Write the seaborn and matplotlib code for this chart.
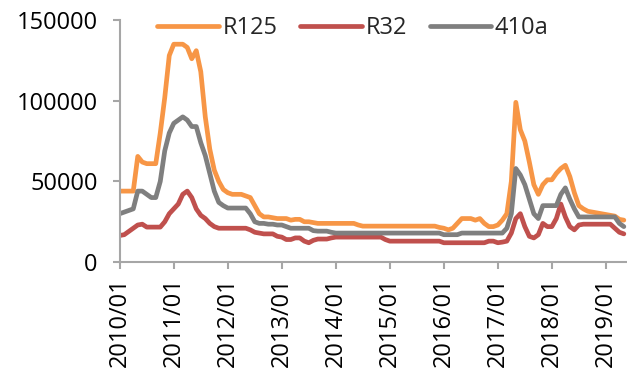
import numpy as np
import pandas as pd
import matplotlib
matplotlib.use("Agg")
import matplotlib.pyplot as plt
import seaborn as sns

# Monthly prices, 2010/01 .. 2019/05
r125 = [44000, 44000, 44000, 44000, 65500, 62000, 61000, 61000, 61000, 80000,
        102000, 128000, 135000, 135000, 135000, 133000, 126000, 131000, 118000, 90000,
        70000, 57000, 50000, 45000, 43000, 42000, 42000, 42000, 41000, 40000,
        35000, 30000, 28000, 28000, 27500, 27000, 27000, 27000, 26000, 26500,
        26500, 25000, 25000, 24500, 24000, 24000, 24000, 24000, 24000, 24000,
        24000, 24000, 24000, 23000, 22300, 22300, 22300, 22300, 22300, 22300,
        22300, 22300, 22300, 22300, 22300, 22300, 22300, 22300, 22300, 22300,
        22300, 21500, 21000, 20000, 21000, 24000, 27000, 27000, 27000, 26000,
        27000, 24000, 22000, 22000, 23000, 26000, 30000, 50000, 99000, 82000,
        75000, 62000, 48000, 42000, 48000, 51000, 51000, 55000, 58000, 60000,
        53000, 43000, 35000, 33000, 31500, 31000, 30500, 30000, 29500, 29000,
        28500, 26500, 26000]

r32 = [16500, 17000, 19000, 21000, 23000, 23500, 21700, 21700, 21700, 21700,
       25000, 30000, 33000, 36000, 42000, 44000, 40000, 33000, 29000, 27000,
       24000, 22000, 21000, 21000, 21000, 21000, 21000, 21000, 21000, 20000,
       18500, 18000, 17500, 17500, 17500, 16000, 15500, 14000, 14000, 15000,
       15000, 13000, 12000, 13500, 14300, 14300, 14300, 15000, 15500, 15500,
       15500, 15500, 15500, 15500, 15500, 15500, 15500, 15500, 15500, 14000,
       13000, 13000, 13000, 13000, 13000, 13000, 13000, 13000, 13000, 13000,
       13000, 13000, 12000, 12000, 12000, 12000, 12000, 12000, 12000, 12000,
       12000, 12000, 13000, 13000, 12000, 12400, 13000, 18000, 27000, 30000,
       22000, 16000, 15000, 17000, 24000, 22000, 22000, 27000, 36000, 28000,
       22000, 20000, 23000, 23500, 23500, 23500, 23500, 23500, 23500, 23500,
       21000, 18500, 17500]

r410a = [30000, 31000, 32000, 33000, 44000, 44000, 42000, 40000, 40000, 50000,
         69000, 80000, 86000, 88000, 90000, 88000, 84000, 84000, 74000, 66000,
         55000, 44000, 37000, 35000, 33500, 33500, 33500, 33500, 33500, 30000,
         25000, 24000, 24000, 23500, 23500, 23000, 23000, 22000, 21000, 21000,
         21000, 21000, 21000, 19500, 19200, 19200, 19200, 18500, 18000, 18000,
         18000, 18000, 18000, 18000, 18000, 18000, 18000, 18000, 18000, 18000,
         18000, 18000, 18000, 18000, 18000, 18000, 18000, 18000, 18000, 18000,
         18000, 18000, 17000, 17000, 17000, 17000, 18000, 18000, 18000, 18000,
         18000, 18000, 18000, 18000, 18000, 18000, 21000, 30000, 58000, 54000,
         48000, 39000, 30000, 27000, 35000, 35000, 35000, 35000, 42000, 46000,
         39000, 33000, 28000, 28000, 28000, 28000, 28000, 28000, 28000, 28000,
         28000, 24000, 22000]

series_names = ["R125", "R32", "410a"]
colors = ["#F79646", "#C0504D", "#7F7F7F"]
tick_labels = ["2010/01", "2011/01", "2012/01", "2013/01", "2014/01",
               "2015/01", "2016/01", "2017/01", "2018/01", "2019/01"]
y_ticks = [0, 50000, 100000, 150000]

n = len(r125)
frames = []
for name, vals in zip(series_names, [r125, r32, r410a]):
    frames.append(pd.DataFrame({"month": np.arange(n), "price": vals, "series": name}))
df = pd.concat(frames, ignore_index=True)

sns.set_theme(style="white")
plt.rcParams["font.family"] = ["Open Sans", "DejaVu Sans"]

fig = plt.figure(figsize=(6.27, 3.81), dpi=100)
ax = fig.add_axes([0.191, 0.312, 0.809, 0.6355])

sns.lineplot(data=df, x="month", y="price", hue="series", hue_order=series_names,
             palette=colors, linewidth=3.4, ax=ax, legend=True)
for line in ax.lines:
    line.set_solid_joinstyle("round")
    line.set_solid_capstyle("round")

ax.set_xlim(0, 112.7)
ax.set_ylim(0, 150000)
ax.set_xticks(np.arange(0, 12 * len(tick_labels), 12))
ax.set_xticklabels(tick_labels, rotation=90)
ax.set_yticks(y_ticks)
ax.set_yticklabels([str(v) for v in y_ticks])
ax.set_xlabel("")
ax.set_ylabel("")

spine_color = "#A6A6A6"
for side in ["top", "right"]:
    ax.spines[side].set_visible(False)
for side in ["left", "bottom"]:
    ax.spines[side].set_color(spine_color)
    ax.spines[side].set_linewidth(1.5)
ax.tick_params(axis="both", which="major", direction="out", length=5, width=1.5,
               color=spine_color, labelsize=17, labelcolor="black")
ax.tick_params(axis="x", bottom=True, pad=6)
ax.tick_params(axis="y", left=True, pad=11)

leg = ax.legend(loc="center", bbox_to_anchor=(0.46, 0.965), ncol=3, frameon=False,
                fontsize=17, handlelength=2.6, handletextpad=0.17, columnspacing=0.95,
                borderaxespad=0)
for h in leg.get_lines():
    h.set_solid_capstyle("round")
    h.set_linewidth(3.4)

fig.savefig("out.png", dpi=100)
